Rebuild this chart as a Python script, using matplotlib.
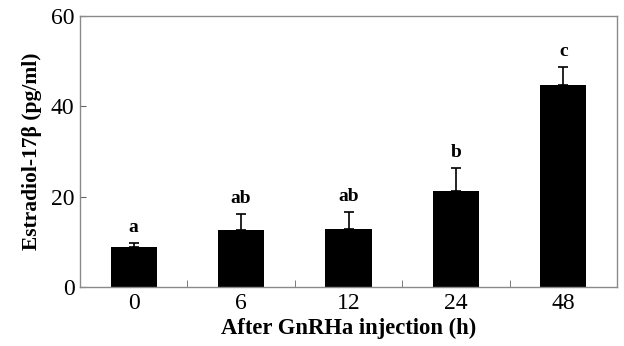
import matplotlib
matplotlib.use("Agg")
import matplotlib.pyplot as plt
import numpy as np

categories = ["0", "6", "12", "24", "48"]
means = [8.8, 12.7, 12.8, 21.3, 44.8]
sem = [0.9, 3.5, 3.7, 5.0, 3.8]
letters = ["a", "ab", "ab", "b", "c"]
yticks = [0, 20, 40, 60]

plt.rcParams['font.family'] = ['Liberation Serif', 'DejaVu Serif']

fig = plt.figure(figsize=(6.24, 3.46), dpi=100)
ax = fig.add_axes([80/624, 1-287/346, 537/624, (287-16)/346])

x = np.arange(len(categories))
ax.bar(x, means, width=0.43, color='black', zorder=2)
ax.errorbar(x, means, yerr=[np.zeros(len(sem)), sem], fmt='none', ecolor='black',
            elinewidth=1.2, capsize=3.6, capthick=1.2, zorder=3)
for xi, m, s, lab in zip(x, means, sem, letters):
    ax.annotate(lab, (xi, m + s), xytext=(0, 8), textcoords='offset points',
                ha='center', va='baseline', fontsize=14, fontweight='bold')

ax.set_xlim(-0.5, 4.5)
ax.set_ylim(0, 60)
ax.set_yticks(yticks)
ax.set_yticklabels([str(v) for v in yticks], fontsize=17)
ax.set_xticks(x)
ax.set_xticklabels(categories, fontsize=17)
ax.set_xticks(np.arange(0.5, 4.5, 1.0), minor=True)
ax.tick_params(axis='x', which='major', length=0, pad=4)
ax.tick_params(axis='x', which='minor', direction='in', length=5, color='#666666')
ax.tick_params(axis='y', direction='in', length=4, color='#666666', pad=4)
for sp in ax.spines.values():
    sp.set_color('#8a8a8a')
    sp.set_linewidth(1.0)

ax.set_xlabel("After GnRHa injection (h)", fontsize=16.3, fontweight='bold', labelpad=3)
ax.set_ylabel("Estradiol-17β (pg/ml)", fontsize=15.5, fontweight='bold', labelpad=6)

fig.savefig("out.png", dpi=100)
